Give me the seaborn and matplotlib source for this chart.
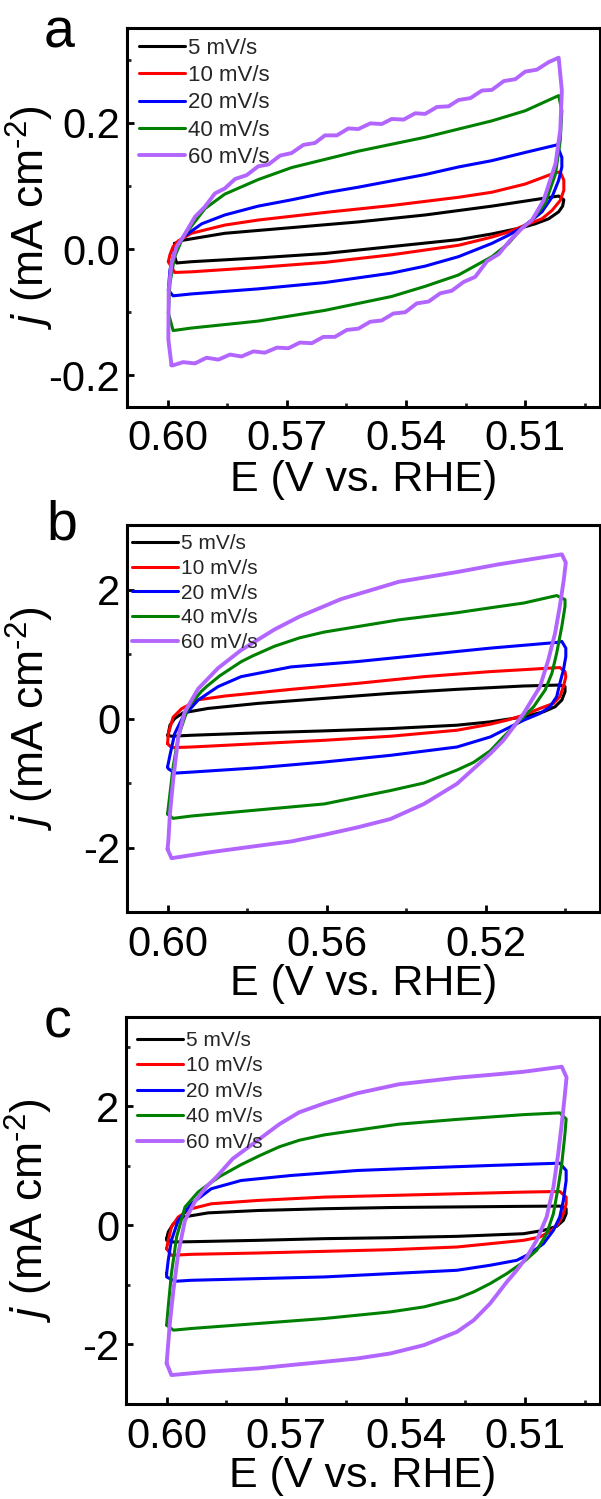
import matplotlib
matplotlib.use("Agg")
import matplotlib.pyplot as plt
import seaborn as sns
import pandas as pd
from matplotlib.ticker import FixedLocator, FixedFormatter

sns.set_theme(style="ticks")
plt.rcParams["font.family"] = ["Liberation Sans", "DejaVu Sans"]
plt.rcParams["mathtext.fontset"] = "custom"
plt.rcParams["mathtext.rm"] = "Liberation Sans"
plt.rcParams["mathtext.it"] = "Liberation Sans:italic"
plt.rcParams["axes.unicode_minus"] = False

RATES = ["5 mV/s", "10 mV/s", "20 mV/s", "40 mV/s", "60 mV/s"]
COLORS = ["#000000", "#FF0000", "#0000FF", "#008000", "#B266FF"]

# ---------------- panel a ----------------
A5_E = [0.5982, 0.5961, 0.5856, 0.5688, 0.5520, 0.5352, 0.5184, 0.5058, 0.5016, 0.5003, 0.5006, 0.5016, 0.5041, 0.5075,
        0.5108, 0.5184, 0.5268, 0.5436, 0.5604, 0.5772, 0.5940, 0.5977, 0.5982]
A5_J = [0.009, 0.014, 0.025, 0.034, 0.043, 0.054, 0.068, 0.080, 0.084, 0.078, 0.068, 0.059, 0.048, 0.040,
        0.034, 0.024, 0.015, 0.004, -0.007, -0.014, -0.020, -0.022, -0.012]
A10_E = [0.5998, 0.5994, 0.5986, 0.5973, 0.5940, 0.5856, 0.5772, 0.5604, 0.5436, 0.5268, 0.5184, 0.5100, 0.5024, 0.5012,
         0.5003, 0.5003, 0.5012, 0.5033, 0.5058, 0.5100, 0.5142, 0.5184, 0.5268, 0.5436, 0.5604, 0.5772, 0.5940, 0.5982]
A10_J = [-0.020, -0.009, 0.004, 0.013, 0.025, 0.038, 0.046, 0.058, 0.069, 0.082, 0.090, 0.103, 0.121, 0.122,
         0.109, 0.093, 0.077, 0.061, 0.048, 0.038, 0.027, 0.019, 0.006, -0.009, -0.021, -0.029, -0.036, -0.037]
A20_E = [0.5998, 0.5994, 0.5982, 0.5961, 0.5914, 0.5856, 0.5772, 0.5688, 0.5604, 0.5520, 0.5436, 0.5352, 0.5268, 0.5184,
         0.5100, 0.5020, 0.5008, 0.5008, 0.5016, 0.5033, 0.5058, 0.5083, 0.5108, 0.5142, 0.5184, 0.5268, 0.5352, 0.5436,
         0.5604, 0.5772, 0.5940, 0.5986]
A20_J = [-0.065, -0.033, -0.002, 0.019, 0.040, 0.054, 0.068, 0.078, 0.089, 0.098, 0.108, 0.118, 0.130, 0.140,
         0.153, 0.165, 0.145, 0.130, 0.109, 0.082, 0.059, 0.046, 0.034, 0.022, 0.009, -0.012, -0.027, -0.038,
         -0.053, -0.063, -0.071, -0.074]
A40_E = [0.5998, 0.5994, 0.5982, 0.5961, 0.5906, 0.5856, 0.5772, 0.5688, 0.5520, 0.5352, 0.5184, 0.5100, 0.5016, 0.5008,
         0.5012, 0.5024, 0.5050, 0.5083, 0.5108, 0.5142, 0.5184, 0.5268, 0.5352, 0.5436, 0.5604, 0.5772, 0.5940, 0.5986]
A40_J = [-0.101, -0.054, -0.012, 0.019, 0.064, 0.087, 0.110, 0.129, 0.155, 0.177, 0.203, 0.219, 0.243, 0.219,
         0.172, 0.119, 0.072, 0.046, 0.034, 0.009, -0.012, -0.041, -0.059, -0.075, -0.097, -0.114, -0.125, -0.129]
A60_E = [0.5990, 0.5998, 0.5997, 0.5990, 0.5977,
         0.5961, 0.5931, 0.5906, 0.5881, 0.5856, 0.5830, 0.5801, 0.5772, 0.5746, 0.5717, 0.5688, 0.5658, 0.5629,
         0.5604, 0.5574, 0.5545, 0.5520, 0.5490, 0.5461, 0.5436, 0.5406, 0.5377, 0.5352, 0.5322, 0.5293, 0.5268,
         0.5238, 0.5209, 0.5184, 0.5154, 0.5125, 0.5100, 0.5071, 0.5041, 0.5016,
         0.5008, 0.5012, 0.5024, 0.5054, 0.5083,
         0.5108, 0.5138, 0.5167, 0.5196, 0.5226, 0.5255, 0.5285, 0.5314, 0.5343, 0.5373, 0.5402, 0.5432, 0.5461,
         0.5490, 0.5520, 0.5549, 0.5579, 0.5608, 0.5637, 0.5667, 0.5696, 0.5725, 0.5755, 0.5784, 0.5814, 0.5843,
         0.5872, 0.5902, 0.5931, 0.5961, 0.5986]
A60_J = [-0.184, -0.143, -0.065, -0.023, 0.004,
         0.019, 0.051, 0.067, 0.088, 0.096, 0.111, 0.117, 0.131, 0.134, 0.148, 0.152, 0.165, 0.168,
         0.180, 0.180, 0.191, 0.190, 0.199, 0.198, 0.206, 0.205, 0.215, 0.214, 0.225, 0.226, 0.236,
         0.239, 0.251, 0.252, 0.266, 0.269, 0.281, 0.284, 0.296, 0.303,
         0.251, 0.188, 0.135, 0.077, 0.046,
         0.033, 0.014, -0.008, -0.019, -0.044, -0.052, -0.066, -0.070, -0.083, -0.086, -0.100, -0.102, -0.113,
         -0.115, -0.126, -0.128, -0.139, -0.139, -0.149, -0.148, -0.157, -0.156, -0.164, -0.162, -0.170, -0.167,
         -0.175, -0.172, -0.181, -0.179, -0.184]

# ---------------- panel b ----------------
B5_E = [0.6000, 0.5998, 0.5994, 0.5982, 0.5961, 0.5898, 0.5773, 0.5606, 0.5439, 0.5272, 0.5104, 0.5013, 0.5000,
        0.5000, 0.5008, 0.5025, 0.5054, 0.5104, 0.5188, 0.5272, 0.5439, 0.5606, 0.5773, 0.5940, 0.5990]
B5_J = [-0.260, -0.234, -0.104, 0.000, 0.088, 0.156, 0.234, 0.312, 0.390, 0.452, 0.504, 0.519, 0.494,
        0.416, 0.286, 0.182, 0.104, 0.026, -0.052, -0.104, -0.156, -0.192, -0.223, -0.260, -0.275]
B10_E = [0.6000, 0.5998, 0.5986, 0.5965, 0.5923, 0.5856, 0.5689, 0.5522, 0.5355, 0.5188, 0.5013, 0.5000, 0.4998,
         0.5004, 0.5013, 0.5029, 0.5063, 0.5104, 0.5146, 0.5188, 0.5272, 0.5439, 0.5606, 0.5773, 0.5940, 0.5990]
B10_J = [-0.390, -0.234, 0.020, 0.150, 0.290, 0.348, 0.452, 0.545, 0.649, 0.727, 0.790, 0.727, 0.649,
         0.494, 0.338, 0.234, 0.156, 0.052, -0.026, -0.088, -0.182, -0.275, -0.338, -0.390, -0.442, -0.452]
B20_E = [0.6000, 0.5994, 0.5982, 0.5961, 0.5923, 0.5873, 0.5815, 0.5689, 0.5522, 0.5355, 0.5188, 0.5021, 0.5008,
         0.4998, 0.4998, 0.5004, 0.5013, 0.5021, 0.5038, 0.5063, 0.5104, 0.5146, 0.5188, 0.5272, 0.5439, 0.5606,
         0.5773, 0.5940, 0.5982, 0.5998]
B20_J = [-0.753, -0.571, -0.234, 0.026, 0.286, 0.494, 0.649, 0.800, 0.883, 0.987, 1.091, 1.179, 1.195,
         1.091, 0.961, 0.753, 0.545, 0.338, 0.182, 0.078, -0.026, -0.156, -0.286, -0.442, -0.571, -0.675,
         -0.764, -0.831, -0.847, -0.779]
B40_E = [0.6000, 0.5994, 0.5986, 0.5973, 0.5948, 0.5915, 0.5901, 0.5869, 0.5815, 0.5786, 0.5731, 0.5668, 0.5606,
         0.5418, 0.5272, 0.5167, 0.5104, 0.5021,
         0.5000, 0.5000, 0.5008, 0.5021, 0.5033, 0.5050, 0.5079, 0.5113, 0.5155, 0.5188, 0.5230, 0.5272, 0.5355,
         0.5439, 0.5606, 0.5773, 0.5940, 0.5986]
B40_J = [-1.481, -1.169, -0.753, -0.286, 0.180, 0.420, 0.500, 0.660, 0.880, 0.970, 1.120, 1.250, 1.340,
         1.530, 1.640, 1.735, 1.790, 1.906,
         1.844, 1.740, 1.429, 1.013, 0.701, 0.442, 0.182, -0.026, -0.286, -0.500, -0.680, -0.800, -1.000,
         -1.117, -1.325, -1.418, -1.512, -1.548]
B60_E = [0.6000, 0.5998, 0.5994, 0.5986, 0.5973, 0.5957, 0.5923, 0.5873, 0.5815, 0.5731, 0.5668, 0.5564, 0.5418,
         0.5272, 0.5167, 0.5008, 0.4998, 0.5003, 0.5013, 0.5025, 0.5042, 0.5063, 0.5104, 0.5155, 0.5188, 0.5272,
         0.5355, 0.5439, 0.5522, 0.5606, 0.5689, 0.5773, 0.5898, 0.5990]
B60_J = [-2.026, -1.896, -1.481, -0.961, -0.286, 0.100, 0.460, 0.780, 1.060, 1.380, 1.580, 1.850, 2.120,
         2.270, 2.390, 2.545, 2.416, 2.156, 1.740, 1.325, 0.909, 0.494, 0.078, -0.338, -0.545, -1.013,
         -1.325, -1.558, -1.688, -1.803, -1.906, -1.974, -2.078, -2.166]

# ---------------- panel c ----------------
C5_E = [0.6000, 0.5996, 0.5983, 0.5958, 0.5896, 0.5771, 0.5604, 0.5438, 0.5271, 0.5104, 0.5013, 0.4997, 0.4997,
        0.5004, 0.5021, 0.5054, 0.5104, 0.5271, 0.5438, 0.5604, 0.5771, 0.5938, 0.5983, 0.6000]
C5_J = [-0.223, -0.112, 0.028, 0.140, 0.210, 0.250, 0.280, 0.300, 0.310, 0.320, 0.324, 0.279, 0.196,
        0.084, -0.017, -0.084, -0.140, -0.184, -0.207, -0.223, -0.251, -0.274, -0.279, -0.251]
C10_E = [0.6000, 0.5996, 0.5988, 0.5971, 0.5938, 0.5888, 0.5771, 0.5604, 0.5438, 0.5271, 0.5104, 0.5013, 0.4997,
         0.4997, 0.5004, 0.5017, 0.5033, 0.5063, 0.5104, 0.5271, 0.5438, 0.5604, 0.5771, 0.5938, 0.5988]
C10_J = [-0.391, -0.251, -0.028, 0.140, 0.279, 0.363, 0.419, 0.475, 0.503, 0.531, 0.559, 0.570, 0.475,
         0.363, 0.196, 0.028, -0.084, -0.196, -0.251, -0.363, -0.408, -0.436, -0.464, -0.486, -0.503]
C20_E = [0.6000, 0.5996, 0.5988, 0.5971, 0.5938, 0.5888, 0.5813, 0.5688, 0.5521, 0.5354, 0.5188, 0.5013, 0.4997,
         0.4997, 0.5004, 0.5013, 0.5029, 0.5054, 0.5088, 0.5121, 0.5188, 0.5271, 0.5438, 0.5604, 0.5771, 0.5938,
         0.5979, 0.6000]
C20_J = [-0.810, -0.587, -0.251, 0.084, 0.363, 0.615, 0.754, 0.838, 0.922, 0.966, 1.006, 1.045, 0.922,
         0.754, 0.419, 0.140, -0.084, -0.307, -0.475, -0.587, -0.670, -0.754, -0.810, -0.866, -0.894, -0.922,
         -0.939, -0.866]
C40_E = [0.6000, 0.5996, 0.5988, 0.5975, 0.5954, 0.5921, 0.5899, 0.5867, 0.5813, 0.5767, 0.5717, 0.5667, 0.5604,
         0.5417, 0.5271, 0.5104, 0.5013, 0.4997, 0.5000, 0.5008, 0.5017, 0.5029, 0.5046, 0.5071, 0.5104, 0.5146,
         0.5188, 0.5229, 0.5271, 0.5354, 0.5438, 0.5604, 0.5771, 0.5938, 0.5983]
C40_J = [-1.676, -1.369, -0.810, -0.196, 0.307, 0.560, 0.670, 0.820, 1.020, 1.170, 1.320, 1.430, 1.520,
         1.700, 1.780, 1.860, 1.890, 1.788, 1.536, 1.034, 0.642, 0.196, -0.140, -0.419, -0.615, -0.810,
         -0.978, -1.117, -1.229, -1.369, -1.453, -1.564, -1.648, -1.732, -1.760]
C60_E = [0.6000, 0.5998, 0.5992, 0.5983, 0.5971,
         0.5954, 0.5929, 0.5900, 0.5874, 0.5834, 0.5767, 0.5717, 0.5667, 0.5604, 0.5521, 0.5417, 0.5271, 0.5167,
         0.5104, 0.5008,
         0.4996, 0.5000, 0.5008, 0.5017, 0.5029, 0.5046, 0.5071, 0.5096, 0.5121, 0.5146, 0.5188, 0.5229, 0.5271,
         0.5354, 0.5438, 0.5521, 0.5604, 0.5688, 0.5771, 0.5896, 0.5988]
C60_J = [-2.318, -2.151, -1.648, -1.089, -0.475,
         0.084, 0.400, 0.650, 0.820, 1.120, 1.450, 1.700, 1.900, 2.050, 2.220, 2.370, 2.480, 2.540,
         2.580, 2.665,
         2.486, 2.207, 1.704, 1.201, 0.642, 0.140, -0.251, -0.531, -0.754, -0.950, -1.313, -1.592, -1.788,
         -2.011, -2.151, -2.235, -2.291, -2.346, -2.402, -2.458, -2.514]

PANELS = [
    dict(E=[A5_E, A10_E, A20_E, A40_E, A60_E], J=[A5_J, A10_J, A20_J, A40_J, A60_J]),
    dict(E=[B5_E, B10_E, B20_E, B40_E, B60_E], J=[B5_J, B10_J, B20_J, B40_J, B60_J]),
    dict(E=[C5_E, C10_E, C20_E, C40_E, C60_E], J=[C5_J, C10_J, C20_J, C40_J, C60_J]),
]
LETTERS = ["a", "b", "c"]
X_MAJOR = [[0.60, 0.57, 0.54, 0.51], [0.60, 0.56, 0.52], [0.60, 0.57, 0.54, 0.51]]
X_LABELS = [["0.60", "0.57", "0.54", "0.51"], ["0.60", "0.56", "0.52"], ["0.60", "0.57", "0.54", "0.51"]]
X_MINOR = [[0.585, 0.555, 0.525, 0.495], [0.58, 0.54, 0.50], [0.585, 0.555, 0.525, 0.495]]
Y_MAJOR = [[-0.2, 0.0, 0.2], [-2, 0, 2], [-2, 0, 2]]
Y_LABELS = [["-0.2", "0.0", "0.2"], ["-2", "0", "2"], ["-2", "0", "2"]]
Y_MINOR = [[-0.1, 0.1, 0.3], [-1, 1], [-1, 1, 3]]
YLIMS = [(-0.25, 0.35), (-3, 3), (-3, 3.5)]

W, H = 601, 1499
fig = plt.figure(figsize=(W / 100, H / 100), dpi=100)
fig.patch.set_facecolor("white")

# axes boxes in pixels: left, right, top, bottom
BOXES = [(127, 600, 28, 407), (127, 600, 525, 912), (126, 600, 1017, 1404)]
LEG = [dict(fs=16, x=139, top=38, ls=0.28, hl=2.07),
       dict(fs=15, x=132, top=534, ls=0.28, hl=2.2),
       dict(fs=15, x=137, top=1031, ls=0.31, hl=2.2)]
LETTER_POS = [(44, 47), (46, 540), (44, 1037)]

try:
    YLABEL = r"$\mathit{j}$ (mA cm$^{\text{-2}}$)"
    from matplotlib.mathtext import MathTextParser
    MathTextParser("agg").parse(YLABEL, 72)
except Exception:
    YLABEL = r"$\mathit{j}$ (mA cm$^{-2}$)"

for k in range(3):
    l, r, t, b = BOXES[k]
    ax = fig.add_axes([l / W, 1 - b / H, (r - l) / W, (b - t) / H])
    ax.set_facecolor("white")
    P = PANELS[k]
    for i in range(5):
        e = list(P["E"][i]) + [P["E"][i][0]]
        j = list(P["J"][i]) + [P["J"][i][0]]
        df = pd.DataFrame({"E": e, "j": j})
        sns.lineplot(data=df, x="E", y="j", sort=False, estimator=None, ax=ax,
                     color=COLORS[i], lw=2.8 if i == 4 else 2.2, label=RATES[i])
    ax.set_xlim(0.6102, 0.4912)
    ax.set_ylim(*YLIMS[k])
    ax.xaxis.set_major_locator(FixedLocator(X_MAJOR[k]))
    ax.xaxis.set_major_formatter(FixedFormatter(X_LABELS[k]))
    ax.xaxis.set_minor_locator(FixedLocator(X_MINOR[k]))
    ax.yaxis.set_major_locator(FixedLocator(Y_MAJOR[k]))
    ax.yaxis.set_major_formatter(FixedFormatter(Y_LABELS[k]))
    ax.yaxis.set_minor_locator(FixedLocator(Y_MINOR[k]))
    ax.tick_params(axis="both", which="major", direction="in", length=5, width=2, labelsize=30,
                   colors="black", pad=5)
    ax.tick_params(axis="x", which="major", pad=9)
    ax.tick_params(axis="both", which="minor", direction="in", length=3, width=2)
    for s in ["left", "bottom", "top", "right"]:
        ax.spines[s].set_linewidth(2.2)
        ax.spines[s].set_color("black")
    ax.set_xlabel("E (V vs. RHE)", fontsize=31, labelpad=0, color="black")
    ax.set_ylabel(YLABEL, fontsize=32, color="black")
    ax.yaxis.set_label_coords(-0.15, 0.5)
    lg = LEG[k]
    hh, ll = ax.get_legend_handles_labels()
    ax.legend(hh, ll, loc="upper left",
              bbox_to_anchor=((lg["x"] - l) / (r - l), 1 - (lg["top"] - t) / (b - t)),
              frameon=False, fontsize=lg["fs"], handlelength=lg["hl"], handletextpad=0.15,
              labelspacing=lg["ls"], borderpad=0, borderaxespad=0)
    lx, ly = LETTER_POS[k]
    fig.text(lx / W, 1 - ly / H, LETTERS[k], fontsize=40, va="baseline", ha="left", color="black")

fig.savefig("out.png", dpi=100, facecolor="white")
